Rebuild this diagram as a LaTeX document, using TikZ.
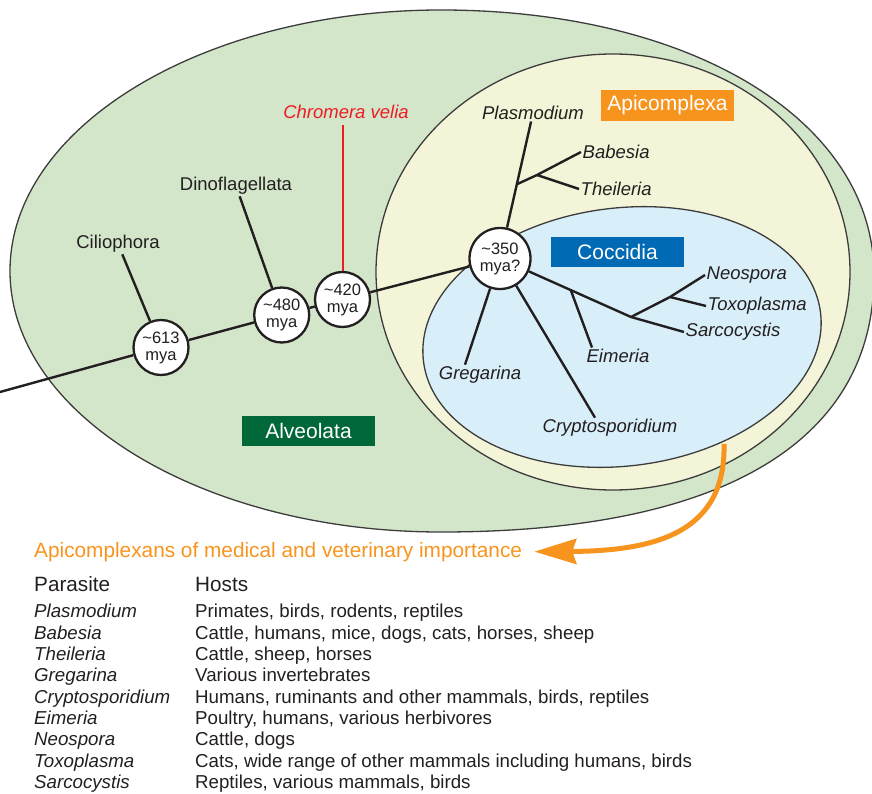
\documentclass[tikz,border=0pt]{standalone}
\usepackage{fontspec}
\setmainfont{Liberation Sans}
\usetikzlibrary{arrows.meta,calc}

\definecolor{alvgreen}{RGB}{212,230,202}
\definecolor{apiyellow}{RGB}{244,245,216}
\definecolor{cocblue}{RGB}{216,238,249}
\definecolor{apiorange}{RGB}{247,148,30}
\definecolor{boxblue}{RGB}{0,106,180}
\definecolor{boxgreen}{RGB}{0,104,56}
\definecolor{chromred}{RGB}{237,28,36}
\definecolor{ink}{RGB}{35,31,32}
\definecolor{rim}{RGB}{60,60,60}

\begin{document}
\begin{tikzpicture}[x=1pt,y=1pt,line join=round,
  clade/.style={draw=rim,line width=1.3pt},
  branch/.style={draw=ink,line width=2.4pt},
  age/.style={circle,draw=ink,fill=white,line width=2.3pt,minimum size=55pt,inner sep=0pt,
    align=center,text=ink,font=\fontsize{16.5}{17}\selectfont},
  taxon/.style={inner sep=1.5pt,text=ink,font=\fontsize{18.5}{20}\selectfont},
  genus/.style={taxon,font=\fontsize{18.5}{20}\selectfont\itshape},
  tag/.style={inner sep=0pt,minimum width=133pt,minimum height=31pt,text=white,
    font=\fontsize{21}{22}\selectfont},
  row/.style={anchor=base west,inner sep=0pt,text=ink,font=\fontsize{18.7}{20}\selectfont}]
\useasboundingbox (0,0) rectangle (872,-794);

%clades
\draw[clade,fill=alvgreen] (10,-271) .. controls (10,-127) and (203,-10) .. (441,-10)
  .. controls (692,-10) and (874,-121) .. (874,-275)
  .. controls (874,-442) and (722,-532) .. (441,-532)
  .. controls (203,-532) and (10,-415) .. cycle;
\draw[clade,fill=apiyellow] (613,-272) ellipse [x radius=237,y radius=218];
\draw[clade,fill=cocblue,rotate around={7:(622,-337)}] (622,-337) ellipse [x radius=200,y radius=129];

\node[tag,fill=apiorange] (apibox) at (667.5,-105.5) {Apicomplexa};
\node[tag,fill=boxblue,minimum height=30pt] (cocbox) at (617.5,-252) {Coccidia};
\node[tag,fill=boxgreen,minimum height=30pt] (alvbox) at (308.5,-431) {Alveolata};

%ages
\node[age] (n613) at (161,-347.5) {\textasciitilde613\\mya};
\node[age] (n480) at (281.7,-315) {\textasciitilde480\\mya};
\node[age] (n420) at (342.5,-299.5) {\textasciitilde420\\mya};
\node[age,minimum size=61pt] (n350) at (500,-258.5) {\textasciitilde350\\mya?};

%labels
\node[taxon] (cilio) at (118,-244) {Ciliophora};
\node[taxon] (dino) at (236,-186) {Dinoflagellata};
\node[genus,text=chromred] (chrom) at (346,-112) {Chromera velia};
\node[genus] (plasmo) at (533,-113) {Plasmodium};
\node[genus,anchor=west] (babesia) at (581,-152) {Babesia};
\node[genus,anchor=west] (theil) at (579,-189) {Theileria};
\node[genus] (greg) at (480,-375) {Gregarina};
\node[genus] (crypto) at (610,-428) {Cryptosporidium};
\node[genus] (eim) at (618,-356) {Eimeria};
\node[genus,anchor=west] (neo) at (705,-275) {Neospora};
\node[genus,anchor=west] (toxo) at (706,-306) {Toxoplasma};
\node[genus,anchor=west] (sarco) at (684,-332) {Sarcocystis};

%trunk
\coordinate (root) at (0,-392);
\begin{scope}[on background layer/.try]
\draw[branch] (root) -- (n613) -- (n480) -- (n420) -- (n350);
\draw[branch] (n613) -- (cilio);
\draw[branch] (n480) -- (dino);
\draw[branch,draw=chromred,line width=2pt,shorten >=5pt] (n420) -- (n420 |- chrom.south);
%Apicomplexa
\coordinate (jP) at ($(n350)!0.51!(plasmo)$);
\coordinate (jBT) at (537,-175);
\draw[branch] (n350) -- (plasmo);
\draw[branch] (jP) -- (jBT) -- (babesia.west);
\draw[branch] (jBT) -- (theil.west);
%Coccidia
\coordinate (jN) at (631,-317);
\coordinate (jE) at ($(n350)!0.54!(jN)$);
\coordinate (jNT) at (670,-297);
\draw[branch] (n350) -- (jN) -- (sarco.west);
\draw[branch] (jE) -- ([xshift=-26pt]eim.north);
\draw[branch] (jN) -- (jNT) -- (neo.west);
\draw[branch] (jNT) -- (toxo.west);
\draw[branch] (n350) -- ([xshift=-15pt]greg.north);
\draw[branch] (n350) -- ([xshift=-15pt]crypto.north);
\end{scope}

%table
\node[row,text=apiorange,font=\fontsize{20.8}{22}\selectfont] (title) at (34,-557)
  {Apicomplexans of medical and veterinary importance};
\coordinate (arrfrom) at (724,-444);
\draw[draw=apiorange,line width=5pt,-{Stealth[length=42pt,width=25pt,inset=4pt]}]
  (arrfrom) .. controls (726,-530) and (660,-551) .. ([xshift=12pt]title.east);
\node[row,font=\fontsize{20.7}{22}\selectfont] (hpar) at (34,-591) {Parasite};
\node[row,font=\fontsize{20.7}{22}\selectfont] (hhost) at (195,-591) {Hosts};
\foreach \gen/\hosts [count=\i from 0] in {
  Plasmodium/{Primates, birds, rodents, reptiles},
  Babesia/{Cattle, humans, mice, dogs, cats, horses, sheep},
  Theileria/{Cattle, sheep, horses},
  Gregarina/{Various invertebrates},
  Cryptosporidium/{Humans, ruminants and other mammals, birds, reptiles},
  Eimeria/{Poultry, humans, various herbivores},
  Neospora/{Cattle, dogs},
  Toxoplasma/{Cats, wide range of other mammals including humans, birds},
  Sarcocystis/{Reptiles, various mammals, birds}}{
  \node[row,font=\fontsize{18.7}{20}\selectfont\itshape] (par\i) at (34,{-617.7-21.35*\i}) {\gen};
  \node[row] (host\i) at (195,{-617.7-21.35*\i}) {\hosts};
}
\end{tikzpicture}
\end{document}
